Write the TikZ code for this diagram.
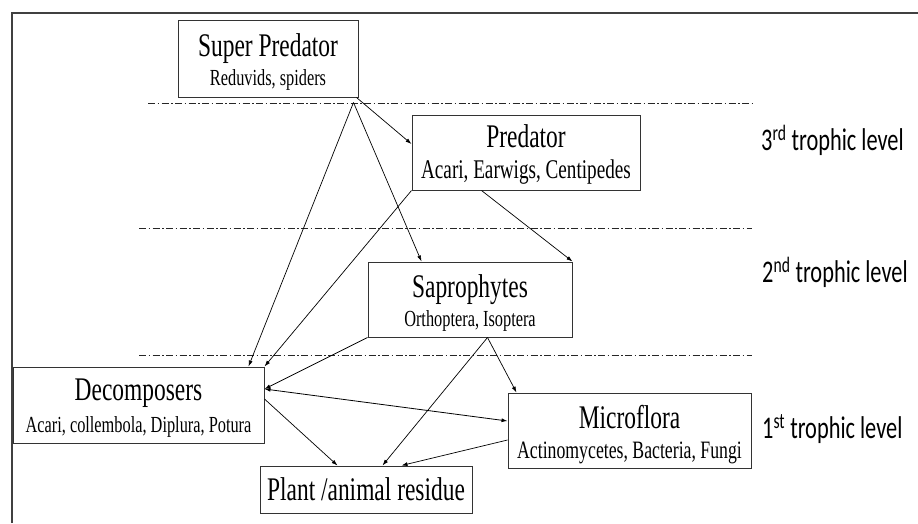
\documentclass[tikz,border=0pt]{standalone}
\usepackage{fontspec}
\usetikzlibrary{arrows.meta,calc}
\newfontfamily\boxfont{Liberation Serif}[FakeStretch=0.71]
\newfontfamily\lvlfont{Carlito}[FakeStretch=0.71]
\tikzset{
  box/.style={draw=black!80, line width=1pt, rectangle, inner sep=0pt},
  ttl/.style={anchor=base, inner sep=0pt, font=\boxfont\fontsize{33}{36}\selectfont},
  sbt/.style={anchor=base, inner sep=0pt, font=\boxfont\fontsize{#1}{#1}\selectfont},
  level/.style={anchor=base west, font=\lvlfont\fontsize{31.5}{34}\selectfont, inner sep=0pt},
  sep/.style={draw=black!85, line width=1pt, dash pattern=on 7pt off 2.5pt on 1.5pt off 2.5pt},
  conn/.style={draw=black, line width=0.7pt, -{Latex[length=6pt,width=4pt]}},
  bconn/.style={draw=black, line width=0.8pt, {Latex[length=6pt,width=4pt]}-{Latex[length=6pt,width=4pt]}},
  frame/.style={draw=black!75, line width=1.3pt}
}
\begin{document}
\begin{tikzpicture}[x=1pt,y=-1pt]
\useasboundingbox (0,0) rectangle (918,523);
\fill[white] (0,0) rectangle (918,523);
% frame
\draw[frame] (12,523) -- (12,13) -- (918,13);
% separators
\draw[sep] (148,103) -- (752,103);
\draw[sep] (139,228) -- (752,228);
\draw[sep] (139,355) -- (752,355);
% boxes
\node[box, minimum width=180pt, minimum height=77pt] (sp) at (268,58.5) {};
\node[ttl] (spt) at (268,56) {Super Predator};
\node[sbt=23] (sps) at (268,85) {Reduvids, spiders};

\node[box, minimum width=228pt, minimum height=75pt] (pred) at (526,152.5) {};
\node[ttl] (predt) at (526,147) {Predator};
\node[sbt=27] (preds) at (526,178) {Acari, Earwigs, Centipedes};

\node[box, minimum width=204pt, minimum height=75pt] (sap) at (470,299.5) {};
\node[ttl] (sapt) at (470,297) {Saprophytes};
\node[sbt=23] (saps) at (470,326) {Orthoptera, Isoptera};

\node[box, minimum width=251pt, minimum height=76pt] (dec) at (138.5,405) {};
\node[ttl] (dect) at (138.5,400) {Decomposers};
\node[sbt=23] (decs) at (138.5,432) {Acari, collembola, Diplura, Potura};

\node[box, minimum width=243pt, minimum height=75pt] (micro) at (629.5,430.5) {};
\node[ttl] (microt) at (629.5,428) {Microflora};
\node[sbt=25] (micros) at (629.5,458) {Actinomycetes, Bacteria, Fungi};

\node[box, minimum width=212pt, minimum height=47pt] (plant) at (366,489.5) {};
\node[ttl] (plantt) at (366,500) {Plant /animal residue};
% level labels
\node[level] (l3) at (761,150) {3\textsuperscript{rd} trophic level};
\node[level] (l2) at (762,282) {2\textsuperscript{nd} trophic level};
\node[level] (l1) at (762,438) {1\textsuperscript{st} trophic level};
% connectors
\coordinate (spo) at ([shift={(-5pt,-5pt)}]sp.south east);
\draw[conn] ([xshift=-2pt]sp.south east) -- ([yshift=8.5pt]pred.west);
\draw[conn] (spo) -- ([xshift=-16pt]dec.north east);
\draw[conn] (spo) -- ([xshift=54pt]sap.north west);
\draw[conn] (pred.south west) -- (dec.north east);
\draw[conn] ([xshift=70pt]pred.south west) -- (sap.north east);
\draw[conn] (sap.south west) -- ([yshift=16pt]dec.east);
\draw[bconn] ([yshift=16pt]dec.east) -- ([yshift=9.5pt]micro.west);
\draw[conn] ([yshift=6pt]dec.east) -- ([xshift=78pt]plant.north west);
\draw[conn] ([xshift=-85pt]sap.south east) -- ([xshift=123pt]plant.north west);
\draw[conn] ([xshift=-85pt]sap.south east) -- ([xshift=9pt]micro.north west);
\draw[conn] ([yshift=-9.5pt]micro.west) -- ([xshift=142pt]plant.north west);
\end{tikzpicture}
\end{document}
